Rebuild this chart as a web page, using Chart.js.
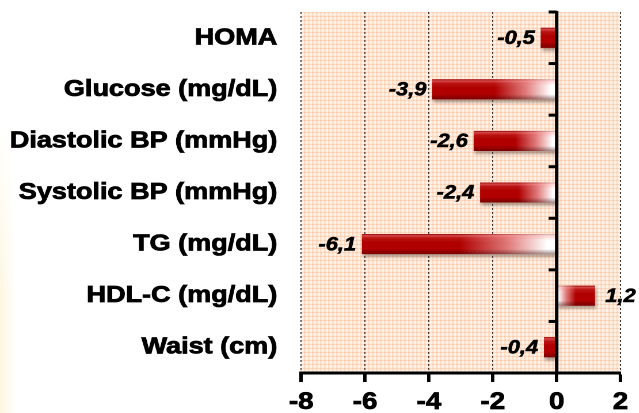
<!DOCTYPE html>
<html>
<head>
<meta charset="utf-8">
<script src="https://cdn.jsdelivr.net/npm/chart.js@4"></script>
<style>
  html, body { margin: 0; padding: 0; background: #ffffff; overflow: hidden; }
  .page { position: relative; width: 639px; height: 413px; }
  .edge-tint {
    position: absolute; left: 0; top: 120px; width: 16px; height: 293px;
    background: linear-gradient(to right, rgba(250, 236, 185, 0.45), rgba(255, 255, 255, 0));
    -webkit-mask-image: linear-gradient(to bottom, transparent, #000 60%);
    mask-image: linear-gradient(to bottom, transparent, #000 60%);
  }
  /* the drawing is laid out narrow and stretched sideways */
  .chart-box {
    position: absolute; left: 0; top: 0;
    width: 555.65px; height: 413px;
    transform: scaleX(1.15); transform-origin: 0 0;
  }
</style>
</head>
<body>
<div class="page">
  <div class="edge-tint"></div>
  <div class="chart-box"><canvas id="change-chart"></canvas></div>
</div>
<script>
const categories = [
  "HOMA",
  "Glucose (mg/dL)",
  "Diastolic BP (mmHg)",
  "Systolic BP (mmHg)",
  "TG (mg/dL)",
  "HDL-C (mg/dL)",
  "Waist (cm)",
];
const changes = [-0.5, -3.9, -2.6, -2.4, -6.1, 1.2, -0.4];
const xTicks = [-8, -6, -4, -2, 0, 2];

const FONT = "'Liberation Sans', Arial, Helvetica, sans-serif";
const BAR_RED = "#b00000";
const STRETCH = 1.15;

function fmt(v) {
  return String(v).replace(".", ",");
}

// fine peach grid texture behind the plot
function makePattern(ctx) {
  const tile = document.createElement("canvas");
  tile.width = 4;
  tile.height = 4;
  const t = tile.getContext("2d");
  t.fillStyle = "#fff4ec";
  t.fillRect(0, 0, 4, 4);
  t.fillStyle = "#fdd2b3";
  t.fillRect(0, 0, 4, 1);
  t.fillRect(0, 0, 1, 4);
  t.fillStyle = "#fbbd92";
  t.fillRect(0, 0, 1, 1);
  const p = ctx.createPattern(tile, "repeat");
  if (p.setTransform) p.setTransform(new DOMMatrix().scale(1 / STRETCH, 1));
  return p;
}

const plotBackground = {
  id: "plotBackground",
  beforeDraw(chart) {
    const { ctx, chartArea: a } = chart;
    ctx.save();
    ctx.fillStyle = makePattern(ctx);
    ctx.fillRect(a.left, a.top, a.right - a.left, a.bottom - a.top);
    ctx.restore();
  },
};

// soft drop shadow under the bars, then a glossy top / dark bottom band
const barShading = {
  id: "barShading",
  beforeDatasetDraw(chart) {
    const ctx = chart.ctx;
    ctx.save();
    ctx.shadowColor = "rgba(80, 60, 50, 0.45)";
    ctx.shadowBlur = 6;
    ctx.shadowOffsetX = 2;
    ctx.shadowOffsetY = 6;
  },
  afterDatasetDraw(chart, args) {
    const ctx = chart.ctx;
    ctx.restore();
    args.meta.data.forEach((bar) => {
      const { x, y, base, height } = bar.getProps(["x", "y", "base", "height"], true);
      const top = y - height / 2;
      const left = Math.min(x, base);
      const w = Math.abs(x - base);
      const g = ctx.createLinearGradient(0, top, 0, top + height);
      g.addColorStop(0, "rgba(120, 0, 0, 0.35)");
      g.addColorStop(0.08, "rgba(255, 170, 170, 0.45)");
      g.addColorStop(0.22, "rgba(255, 120, 120, 0.12)");
      g.addColorStop(0.4, "rgba(255, 255, 255, 0)");
      g.addColorStop(0.75, "rgba(0, 0, 0, 0)");
      g.addColorStop(1, "rgba(70, 0, 0, 0.45)");
      ctx.save();
      ctx.fillStyle = g;
      ctx.fillRect(left, top, w, height);
      ctx.restore();
    });
  },
};

// solid zero line with short ticks at the row boundaries, plus value labels
const zeroAxis = {
  id: "zeroAxis",
  afterDatasetsDraw(chart) {
    const { ctx, chartArea: a, scales } = chart;
    const x0 = scales.x.getPixelForValue(0);
    ctx.save();
    ctx.strokeStyle = "#000";
    ctx.lineWidth = 3;
    ctx.beginPath();
    ctx.moveTo(x0, a.top - 1);
    ctx.lineTo(x0, a.bottom);
    ctx.stroke();
    for (let i = 0; i < categories.length; i++) {
      const yb = scales.y.getPixelForValue(i - 0.5);
      ctx.beginPath();
      ctx.moveTo(x0 - 7, yb);
      ctx.lineTo(x0, yb);
      ctx.stroke();
    }

    ctx.fillStyle = "#000";
    ctx.strokeStyle = "#000";
    ctx.lineWidth = 0.6;
    ctx.font = "italic bold 19px " + FONT;
    ctx.textBaseline = "middle";
    chart.getDatasetMeta(0).data.forEach((bar, i) => {
      const v = changes[i];
      const { x, y } = bar.getProps(["x", "y"], true);
      const tx = v < 0 ? x - 5 : x + 9;
      ctx.textAlign = v < 0 ? "right" : "left";
      ctx.fillText(fmt(v), tx, y + 1);
      ctx.strokeText(fmt(v), tx, y + 1);
    });
    ctx.restore();
  },
};

function barFill(context) {
  const chart = context.chart;
  const xs = chart.scales.x;
  const v = changes[context.dataIndex];
  if (!chart.chartArea || !xs || Math.abs(v) < 1) return BAR_RED;
  const p0 = xs.getPixelForValue(0);
  const p1 = xs.getPixelForValue(v);
  const g = chart.ctx.createLinearGradient(p1, 0, p0, 0);
  g.addColorStop(0, BAR_RED);
  g.addColorStop(0.5, BAR_RED);
  g.addColorStop(0.75, "#e07a7a");
  g.addColorStop(0.95, "#ffffff");
  g.addColorStop(1, "#ffffff");
  return g;
}

new Chart(document.getElementById("change-chart"), {
  type: "bar",
  data: {
    labels: categories,
    datasets: [
      {
        data: changes,
        backgroundColor: barFill,
        borderWidth: 0,
        barPercentage: 0.39,
        categoryPercentage: 1,
      },
    ],
  },
  options: {
    indexAxis: "y",
    responsive: true,
    maintainAspectRatio: false,
    devicePixelRatio: 2,
    animation: false,
    layout: { padding: { top: 12, right: 16.5, bottom: 0, left: 0 } },
    plugins: {
      legend: { display: false },
      tooltip: { enabled: false },
    },
    scales: {
      x: {
        type: "linear",
        min: -8,
        max: 2,
        afterBuildTicks: (scale) => {
          scale.ticks = xTicks.map((v) => ({ value: v }));
        },
        afterFit: (scale) => {
          scale.height = 40;
        },
        grid: {
          color: "#3c3c3c",
          lineWidth: 1,
          drawTicks: true,
          tickLength: 9,
          tickWidth: 3,
          tickColor: "#000",
        },
        border: { display: true, color: "#000", width: 3, dash: [2, 2] },
        ticks: {
          color: "#000",
          padding: 6,
          textStrokeColor: "#000",
          textStrokeWidth: 0.8,
          font: { family: FONT, size: 24, weight: "bold" },
          callback: (v) => String(v),
        },
      },
      y: {
        afterFit: (scale) => {
          scale.width = 261.7;
          // keep the label padding from pushing the plot down
          scale.paddingTop = 0;
          scale.paddingBottom = 0;
        },
        grid: { display: false, drawTicks: false },
        border: { display: false },
        ticks: {
          color: "#000",
          padding: 20.8,
          textStrokeColor: "#000",
          textStrokeWidth: 0.8,
          font: { family: FONT, size: 23.5, weight: "bold" },
        },
      },
    },
  },
  plugins: [plotBackground, barShading, zeroAxis],
});
</script>
</body>
</html>
